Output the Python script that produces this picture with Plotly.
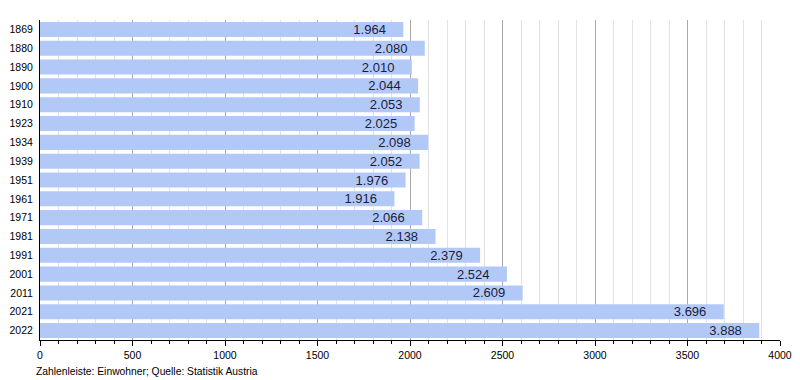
import plotly.graph_objects as go

years = ["1869", "1880", "1890", "1900", "1910", "1923", "1934", "1939", "1951",
         "1961", "1971", "1981", "1991", "2001", "2011", "2021", "2022"]
population = [1964, 2080, 2010, 2044, 2053, 2025, 2098, 2052, 1976,
              1916, 2066, 2138, 2379, 2524, 2609, 3696, 3888]
x_ticks = [0, 500, 1000, 1500, 2000, 2500, 3000, 3500, 4000]
footer = "Zahlenleiste: Einwohner; Quelle: Statistik Austria"

pad = "\u00a0" * 4

fig = go.Figure(go.Bar(
    x=population, y=years, orientation="h",
    marker=dict(color="#b2c9f8", line=dict(width=0)),
    texttemplate="%{x:,d}" + pad, textposition="inside", insidetextanchor="end",
    constraintext="none",
    textfont=dict(family="Liberation Sans", size=13, color="#1c1c3a"),
    cliponaxis=False,
))

# page body has an 8px margin, so the figure is shrunk by that amount
fig.update_layout(
    width=792, height=372,
    margin=dict(l=32, r=20, t=12, b=40),
    plot_bgcolor="white", paper_bgcolor="white",
    separators=",.",
    bargap=0.2,
    showlegend=False,
    uniformtext=dict(minsize=13, mode="show"),
    font=dict(family="Liberation Sans", size=10.5, color="#000"),
    annotations=[dict(text=footer, xref="paper", yref="paper", x=-0.008, y=-0.075,
                      xanchor="left", yanchor="top", showarrow=False,
                      font=dict(size=10.3, color="#000"))],
)
fig.update_xaxes(
    range=[0, 4000], tickvals=x_ticks, tickformat="d",
    showgrid=True, gridcolor="#a8a8a8", gridwidth=1,
    minor=dict(dtick=100, showgrid=True, gridcolor="#e2e2e2", ticks="outside",
               ticklen=3, tickcolor="#000"),
    ticks="outside", ticklen=5, tickcolor="#000",
    showline=True, linecolor="#000", linewidth=1,
    zeroline=False, fixedrange=True, automargin=False,
)
fig.update_yaxes(
    type="category", autorange="reversed", automargin=False,
    showgrid=False, ticks="", showline=True, linecolor="#000", linewidth=1,
    ticklabelstandoff=4,
)

fig.write_html("out.html")
